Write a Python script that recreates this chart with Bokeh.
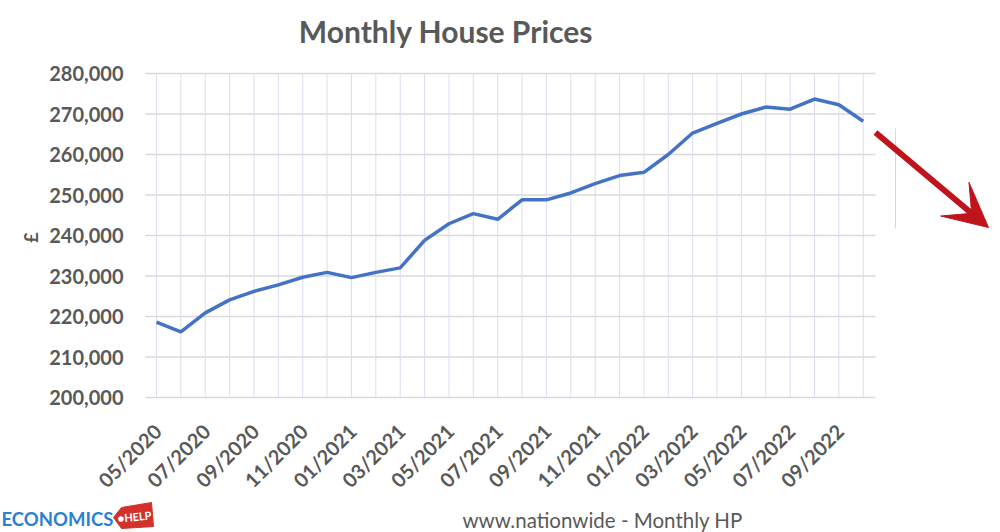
import math
from bokeh.plotting import figure
from bokeh.models import Range1d, Arrow, VeeHead
from bokeh.core.properties import value
from bokeh.embed import file_html
from bokeh.resources import INLINE

months = ["05/2020", "06/2020", "07/2020", "08/2020", "09/2020", "10/2020",
          "11/2020", "12/2020", "01/2021", "02/2021", "03/2021", "04/2021",
          "05/2021", "06/2021", "07/2021", "08/2021", "09/2021", "10/2021",
          "11/2021", "12/2021", "01/2022", "02/2022", "03/2022", "04/2022",
          "05/2022", "06/2022", "07/2022", "08/2022", "09/2022", "10/2022"]
prices = [218600, 216200, 220900, 224100, 226200, 227800,
          229700, 230900, 229600, 230900, 232000, 238800,
          242900, 245400, 244000, 248800, 248800, 250500,
          252800, 254800, 255600, 260000, 265300, 267700,
          270000, 271700, 271200, 273700, 272300, 268200]
y_ticks = [200000, 210000, 220000, 230000, 240000, 250000, 260000, 270000, 280000]
y_tick_labels = [f"{v:,}" for v in y_ticks]
x_tick_idx = list(range(0, 30, 2))
x_tick_labels = [months[i] for i in x_tick_idx]

TEXT = "#595959"
FONT = "Lato"
RED = "#c0141c"

# canvas pixel -> data helpers (the frame covers the whole canvas)
def px(ix):
    return (ix - 156.0) / 24.37

def py(iy):
    return 280000 - (iy - 73.0) * (10000 / 40.5)

p = figure(width=1000, height=532, output_backend="svg", toolbar_location=None,
           x_range=Range1d(px(0), px(1000)), y_range=Range1d(py(532), py(0)),
           x_axis_location=None, y_axis_location=None,
           min_border=0, min_border_left=0, min_border_right=0,
           min_border_top=0, min_border_bottom=0)
p.outline_line_color = None
p.xgrid.visible = False
p.ygrid.visible = False
p.background_fill_color = "white"

xs = list(range(len(months)))
n_y = len(y_ticks)


def txt(x, y, t, size, bold=True, color=TEXT, align="left", angle=0.0, x_offset=0):
    p.text(x=x, y=y, text=t, text_align=align, text_baseline="middle", angle=angle,
           x_offset=x_offset, text_font=value(FONT),
           text_font_style="bold" if bold else "normal",
           text_font_size=size, text_color=color)


# grid lines
p.segment(x0=[px(145)] * n_y, y0=y_ticks, x1=[px(875)] * n_y, y1=y_ticks,
          line_color="#d9d9d9", line_width=1.4)
p.segment(x0=xs, y0=[y_ticks[0]] * len(xs), x1=xs, y1=[y_ticks[-1]] * len(xs),
          line_color="#dcdcf0", line_width=1)
# faint vertical line near the arrow
p.segment(x0=[px(895)], y0=[py(128)], x1=[px(895)], y1=[py(228)],
          line_color="#e6d0d8", line_width=1)

# series
p.line(xs, prices, line_color="#4472C4", line_width=3.5)

# y tick labels and axis label
txt([px(123)] * n_y, y_ticks, y_tick_labels, "20px", align="right")
txt([px(30)], [py(237)], ["£"], "18px", align="center", angle=math.pi / 2)
# x tick labels
txt(x_tick_idx, [py(427)] * len(x_tick_idx), x_tick_labels, "20px", align="right",
    angle=math.pi / 4, x_offset=1)

# red arrow
p.add_layout(Arrow(end=VeeHead(size=44, fill_color=RED, line_color=RED, line_width=1),
                   x_start=px(875), y_start=py(132), x_end=px(988), y_end=py(227),
                   line_color=RED, line_width=6))

# title
txt([px(445.5)], [py(30)], ["Monthly House Prices"], "30px", align="center")
# footer source
txt([px(462)], [py(519)], ["www.nationwide  - Monthly HP"], "20.5px", bold=False)
# logo
txt([px(1)], [py(518)], ["ECONOMICS"], "18.5px", color="#2b7fd4")
p.patch(x=[px(113), px(121), px(151), px(153), px(121)],
        y=[py(517), py(507), py(502), py(526), py(528)],
        fill_color="#d4302c", line_color="#d4302c")
txt([px(134)], [py(516)], ["●HELP"], "11px", color="white", align="center", angle=0.1)

open("out.html", "w").write(file_html(p, INLINE))
